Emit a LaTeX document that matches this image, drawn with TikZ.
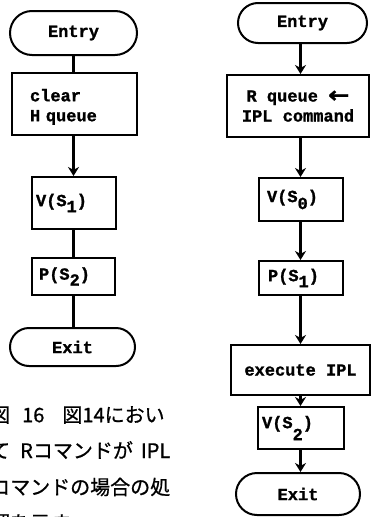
\documentclass[tikz,border=0pt]{standalone}
\usepackage{fontspec}
\setmonofont[FakeBold=1.2]{Liberation Mono}
\newfontfamily\jpfont[FakeBold=0.8]{Noto Sans CJK JP}
\newfontfamily\arrowglyph[FakeBold=1]{DejaVu Sans}
\usetikzlibrary{shapes.misc,arrows.meta}
% lowered index digit, typewriter style
\newcommand\lowsub[2][5pt]{\raisebox{-#1}{#2}}

\begin{document}
\begin{tikzpicture}[x=1pt,y=-1pt,
  every node/.style={font=\ttfamily\bfseries\fontsize{17}{20}\selectfont},
  term/.style={draw,rounded rectangle,line width=2pt,inner sep=0pt},
  proc/.style={draw,rectangle,line width=2pt,inner sep=0pt},
  flow/.style={line width=2.2pt},
  flowarrow/.style={flow,-{Stealth[length=9pt,width=11pt]}},
  caption/.style={font=\jpfont\fontsize{20}{24}\selectfont,anchor=west,inner sep=0pt}]

\clip (0,0) rectangle (371,517);

% ---- left flow: clear H queue ----
\node[term,minimum width=127pt,minimum height=44pt] (entryL) at (73.5,33) {Entry};
\node[proc,minimum height=62pt,text width=89pt,inner xsep=18pt,align=left] (clearL) at (74.5,104) {\rule{0pt}{18pt}clear\\H queue};
\node[proc,minimum height=52pt,text width=76pt,inner xsep=4pt,align=left] (v1L) at (74,203) {V(S\lowsub[6pt]{1})};
\node[proc,minimum height=37pt,text width=69pt,inner xsep=7pt,align=left] (p2L) at (73.5,276.5) {P(S\lowsub[6pt]{2})};
\node[term,minimum width=125pt,minimum height=38pt] (exitL) at (72.5,347) {Exit};

\draw[flow] (entryL.south) -- (entryL.south |- clearL.north);
\draw[flowarrow] (clearL.south -| entryL.south) -- (entryL.south |- v1L.north);
\draw[flow] (v1L.south -| entryL.south) -- (entryL.south |- p2L.north);
\draw[flow] (p2L.south -| entryL.south) -- (entryL.south |- exitL.north);

% ---- right flow: IPL command ----
\node[term,minimum width=129pt,minimum height=40pt] (entryR) at (302.5,23) {Entry};
\node[proc,minimum width=142pt,minimum height=62pt,align=center] (rqR) at (298,106)
  {R queue \raisebox{-1pt}{\scalebox{1.5}[1.3]{\arrowglyph\bfseries ←}}\\IPL command};
\node[proc,minimum height=43pt,text width=68pt,inner xsep=8pt,align=left] (v0R) at (301,199.5) {V(S\lowsub[7pt]{0})};
\node[proc,minimum height=34pt,text width=66pt,inner xsep=9pt,align=left] (p1R) at (301,278) {P(S\lowsub[6pt]{1})};
\node[proc,minimum width=139pt,minimum height=50pt] (exR) at (300.5,370) {execute IPL};
\node[proc,minimum height=42pt,text width=78pt,inner xsep=4pt,align=left] (v2R) at (301,428) {V(S\lowsub[12pt]{2})};
\node[term,minimum width=124pt,minimum height=42pt] (exitR) at (298,494) {Exit};

\coordinate (colR) at (300.5,0);
\draw[flowarrow] (entryR.south -| colR) -- (colR |- rqR.north);
\draw[flowarrow] (rqR.south -| colR) -- (colR |- v0R.north);
\draw[flowarrow] (v0R.south -| colR) -- (colR |- p1R.north);
\draw[flowarrow] (p1R.south -| colR) -- (colR |- exR.north);
\draw[flowarrow] (exR.south -| colR) -- (colR |- v2R.north);
\draw[flowarrow] (v2R.south -| colR) -- (colR |- exitR.north);

% ---- handwritten caption ----
\node[caption] (cap1) at (-10,415) {図\hspace{12pt}16\hspace{18pt}図14におい};
\node[caption] (cap2) at (-10,450) {て\hspace{10pt}Rコマンドが\hspace{8pt}IPL};
\node[caption] (cap3) at (-10,487) {コマンドの場合の処};
\node[caption] (cap4) at (-10,523) {理を示す};
\end{tikzpicture}
\end{document}
